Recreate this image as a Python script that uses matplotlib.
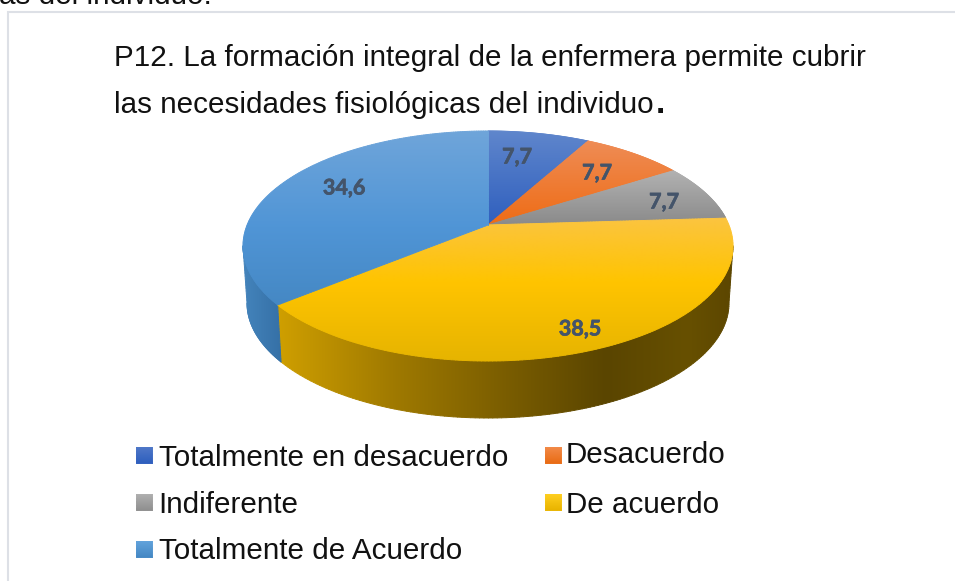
"""P12 pie chart, drawn as a tilted 3D pie with a perspective top face."""

import numpy as np
import matplotlib

matplotlib.use("Agg")
import matplotlib.patheffects as pe
import matplotlib.pyplot as plt
from matplotlib.collections import LineCollection
from matplotlib.colors import LinearSegmentedColormap
from matplotlib.patches import Polygon

categories = ["Totalmente en desacuerdo", "Desacuerdo", "Indiferente", "De acuerdo", "Totalmente de Acuerdo"]
values = [7.7, 7.7, 7.7, 38.5, 34.6]
value_labels = ["7,7", "7,7", "7,7", "38,5", "34,6"]

TITLE_LINES = ["P12. La formación integral de la enfermera permite cubrir", "las necesidades fisiológicas del individuo"]
CUT_TEXT = "as del individuo."

# image is in pixel coordinates, y pointing down
CX, CY, RX, RY = 488, 246, 245, 115
BOTTOM_CX, BOTTOM_CY, BOTTOM_RX, BOTTOM_RY = 488, 303, 241, 115
APEX_SHIFT = 0.183

FACE_STOPS = [
    [(0, "#5f86cc"), (1, "#2f5fbe")],
    [(0, "#ef8c55"), (1, "#ee6c15")],
    [(0, "#b2b2b2"), (1, "#8a8a8a")],
    [(0, "#fbc440"), (0.45, "#ffc400"), (1, "#e6b400")],
    [(0, "#6fa5da"), (0.55, "#5095d6"), (1, "#4588c4")],
]
WALL_STOPS = [
    [(0, "#2f5fbe"), (1, "#2f5fbe")],
    [(0, "#c05a10"), (1, "#c05a10")],
    [(0, "#777777"), (1, "#777777")],
    [(0, "#cf9f00"), (0.25, "#a07a00"), (0.5, "#7a5d00"), (0.72, "#5a4500"), (0.9, "#675000"), (1, "#5c4600")],
    [(0, "#4484bc"), (1, "#3570a6")],
]
LEGEND_STOPS = [
    [(0, "#4f78c8"), (1, "#2f5fbe")],
    [(0, "#f28a48"), (1, "#e96c15")],
    [(0, "#b0b0b0"), (1, "#8f8f8f")],
    [(0, "#ffcf20"), (1, "#e9b400")],
    [(0, "#62a3dc"), (1, "#4588c4")],
]
LABEL_XY = [(517, 157), (597, 173), (664, 202), (580, 329), (344, 188)]
LEGEND_XY = [(136, 447, 159, 466), (545, 447, 566, 463), (136, 494, 158, 513), (545, 494, 566, 513), (136, 541, 159, 559)]

order = [0]


def project(theta):
    """Clockwise angle from the top of the circle -> perspective position on the ellipse."""
    x, y = np.sin(theta), np.cos(theta)
    den = 1 + APEX_SHIFT * y
    return x * np.sqrt(1 - APEX_SHIFT**2) / den, (y + APEX_SHIFT) / den


def rim(theta, cx, cy, rx, ry):
    px, py = project(theta)
    return np.column_stack([cx + rx * px, cy - ry * py])


def densify(poly, step=3.0):
    pts = []
    closed = np.vstack([poly, poly[:1]])
    for a, b in zip(closed[:-1], closed[1:]):
        n = max(int(np.hypot(*(b - a)) / step), 1)
        pts.append(a + (b - a) * np.linspace(0, 1, n, endpoint=False)[:, None])
    pts = np.vstack(pts)
    return np.vstack([pts, pts[:1]])


def gradient(ax, stops, poly, vertical=True):
    order[0] += 1
    z = 2 + order[0] * 0.01
    cmap = LinearSegmentedColormap.from_list("g", stops)
    ramp = np.linspace(0, 1, 256)
    data = ramp[:, None] if vertical else ramp[None, :]
    xmin, ymin = poly.min(axis=0)
    xmax, ymax = poly.max(axis=0)
    patch = Polygon(poly, closed=True, transform=ax.transData, fc="none", ec="none")
    ax.add_patch(patch)
    im = ax.imshow(data, cmap=cmap, extent=(xmin, xmax, ymax, ymin), aspect="auto", interpolation="bilinear", zorder=z)
    im.set_clip_path(patch)
    # soft edge in the local colour, the clipped image alone looks jagged
    pts = densify(poly)
    mids = (pts[:-1] + pts[1:]) / 2
    if vertical:
        frac = (mids[:, 1] - ymin) / max(ymax - ymin, 1)
    else:
        frac = (mids[:, 0] - xmin) / max(xmax - xmin, 1)
    segs = np.stack([pts[:-1], pts[1:]], axis=1)
    ax.add_collection(LineCollection(segs, colors=cmap(frac), linewidths=0.7, zorder=z, capstyle="round"))


fig = plt.figure(figsize=(9.55, 5.81), dpi=100)
ax = fig.add_axes([0, 0, 1, 1])
ax.axis("off")

# page fragments: text line above the frame, frame corner
ax.text(-1, 4, CUT_TEXT, fontsize=21.3, family="Liberation Sans", color="#111111", va="baseline")
ax.plot([8, 8, 955], [581, 12, 12], color="#dde0e6", lw=1.5, solid_joinstyle="miter")

ends = 2 * np.pi * np.cumsum(values) / np.sum(values)
starts = np.concatenate([[0], ends[:-1]])

# only the front half of the rim has a visible wall
front_start = np.arccos(-APEX_SHIFT)
front_end = 2 * np.pi - front_start
for start, end, stops in zip(starts, ends, WALL_STOPS):
    start, end = max(start, front_start), min(end, front_end)
    if start >= end:
        continue
    t = np.linspace(start, end, 150)
    poly = np.vstack([rim(t, CX, CY, RX, RY), rim(t[::-1], BOTTOM_CX, BOTTOM_CY, BOTTOM_RX, BOTTOM_RY)])
    gradient(ax, stops, poly, vertical=False)

apex = np.array([[CX, CY - RY * APEX_SHIFT]])
for start, end, stops in zip(starts, ends, FACE_STOPS):
    t = np.linspace(start, end, 200)
    poly = np.vstack([apex, rim(t, CX, CY, RX, RY)])
    gradient(ax, stops, poly)

for lab, (x, y) in zip(value_labels, LABEL_XY):
    ax.text(x, y, lab, fontsize=15.5, family="Lato", weight="bold", color="#44546a", ha="center", va="center", zorder=5,
            path_effects=[pe.withStroke(linewidth=0.5, foreground="#44546a")])

ax.text(114, 66, TITLE_LINES[0], fontsize=21.35, family="Liberation Sans", color="#111111", va="baseline")
line2 = ax.text(114, 113, TITLE_LINES[1], fontsize=21.35, family="Liberation Sans", color="#111111", va="baseline")
ax.set_xlim(0, 955)
ax.set_ylim(581, 0)
fig.canvas.draw()
end_px = line2.get_window_extent().x1
ax.text(end_px + 2, 113, ".", fontsize=24, family="Liberation Sans", weight="bold", color="#111111", va="baseline")

for name, stops, (sx, sy, tx, ty) in zip(categories, LEGEND_STOPS, LEGEND_XY):
    square = np.array([[sx, sy], [sx + 16, sy], [sx + 16, sy + 16], [sx, sy + 16]], dtype=float)
    gradient(ax, stops, square)
    ax.text(tx, ty, name, fontsize=21.3, family="Liberation Sans", color="#111111", va="baseline")

ax.set_xlim(0, 955)
ax.set_ylim(581, 0)
fig.savefig("out.png", dpi=100)
plt.close(fig)
